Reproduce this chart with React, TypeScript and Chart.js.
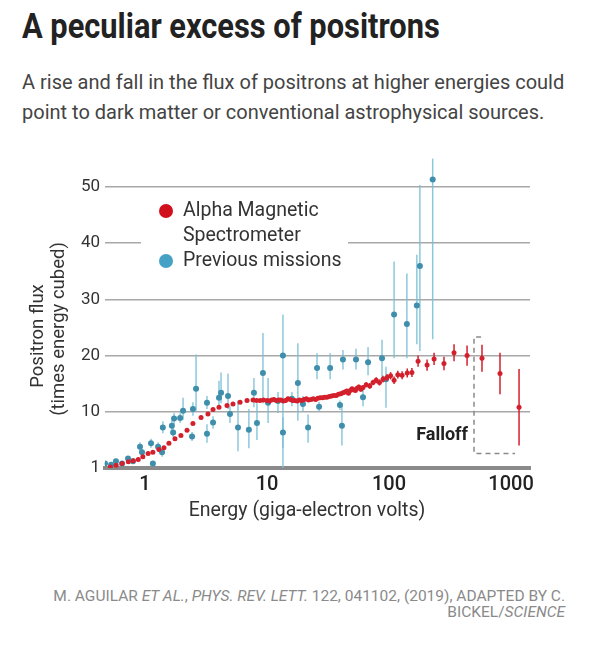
import React, { useEffect, useRef } from 'react';
import { Chart, registerables } from 'chart.js';
Chart.register(...registerables);

// Alpha Magnetic Spectrometer (energy in GeV, flux x E^3, symmetric error)
const amsEnergy = [
  0.52, 0.58, 0.65, 0.73, 0.8, 0.88, 0.96, 1.06, 1.16, 1.3, 1.43, 1.57, 1.76, 1.97, 2.21, 2.47, 2.88, 3.28, 3.61, 4.04, 4.7, 5.26, 6.01, 6.86, 7.68,
  8.2, 8.77, 9.35, 10.0, 10.45, 10.9, 11.4, 11.9, 12.45, 13.0, 13.6, 14.2, 14.85, 15.5, 16.2, 16.9, 17.6, 18.4, 19.2, 20.1, 21.0, 21.9, 22.9, 23.9,
  25.0, 26.1, 27.3, 28.5, 29.7, 31.0, 32.4, 33.8, 35.3, 36.9, 38.5, 40.2, 41.9, 43.6, 45.0, 46.5, 48.1, 49.7, 51.3, 53.0, 54.7, 56.5, 58.8, 61.2,
  65.0, 69.5, 73.9, 78.5, 83.5, 89.3, 96.3, 103, 110, 118, 128, 141, 154, 173, 205, 234, 282, 341, 436, 578, 812, 1163,
];
const amsFlux = [
  0.2, 0.5, 0.8, 1.1, 1.3, 1.5, 2.0, 2.6, 2.8, 3.3, 3.6, 4.4, 5.2, 5.8, 6.7, 7.9, 9.0, 9.6, 10.4, 10.8, 11.1, 11.4, 11.7, 12.0, 12.1,
  12.0, 12.0, 12.1, 12.0, 11.9, 12.1, 12.2, 12.0, 12.1, 12.1, 11.9, 12.0, 12.3, 12.2, 12.0, 12.0, 11.9, 12.1, 12.0, 12.2, 12.3, 12.1, 12.2, 12.3,
  12.2, 12.4, 12.5, 12.5, 12.6, 12.6, 12.7, 12.8, 12.9, 12.9, 13.1, 13.2, 13.4, 13.5, 13.7, 13.3, 13.8, 14.1, 13.9, 13.8, 14.2, 14.4, 14.0, 14.3,
  14.8, 14.6, 15.2, 15.6, 15.2, 15.8, 16.1, 16.4, 15.6, 16.6, 16.5, 16.9, 17.0, 19.0, 18.3, 19.4, 18.6, 20.5, 20.0, 19.5, 16.8, 10.8,
];
const amsError = [
  0.05, 0.05, 0.05, 0.05, 0.05, 0.05, 0.05, 0.05, 0.05, 0.05, 0.05, 0.05, 0.05, 0.05, 0.05, 0.05, 0.1, 0.1, 0.1, 0.1, 0.1, 0.1, 0.1, 0.1, 0.1,
  0.1, 0.1, 0.1, 0.1, 0.15, 0.15, 0.15, 0.15, 0.15, 0.15, 0.15, 0.15, 0.15, 0.15, 0.15, 0.15, 0.15, 0.15, 0.15, 0.15, 0.2, 0.2, 0.2, 0.2,
  0.2, 0.2, 0.2, 0.2, 0.2, 0.2, 0.25, 0.25, 0.25, 0.25, 0.25, 0.25, 0.25, 0.25, 0.3, 0.3, 0.3, 0.3, 0.3, 0.3, 0.4, 0.4, 0.4, 0.4,
  0.45, 0.5, 0.5, 0.55, 0.55, 0.6, 0.6, 0.65, 0.65, 0.7, 0.7, 0.8, 0.8, 1.0, 1.0, 1.1, 1.2, 1.5, 1.8, 2.4, 3.7, 6.8,
];

// Previous missions (energy, flux, lower and upper error bar ends)
const prevEnergy = [0.47, 0.527, 0.578, 0.648, 0.726, 0.797, 0.91, 0.945, 1.12, 1.16, 1.28, 1.38, 1.4, 1.66, 1.7, 1.73, 1.94, 2.05, 2.43, 2.47, 2.62, 3.22, 3.22, 3.61, 4.04, 4.2, 4.79, 4.97, 5.78, 7.1, 7.81, 8.27, 9.26, 10.2, 12.3, 13.5, 13.5, 16.0, 17.9, 19.7, 21.7, 25.7, 26.7, 32.9, 39.6, 41.1, 41.9, 53.6, 61.2, 67.3, 87.6, 94.4, 110, 140, 169, 179, 228];
const prevFlux = [0.8, 0.6, 1.2, 0.8, 1.7, 1.2, 3.8, 2.8, 4.4, 0.8, 3.8, 2.8, 7.2, 7.5, 6.3, 8.8, 8.9, 10.2, 5.6, 10.5, 14.1, 11.6, 6.1, 8.1, 12.5, 13.4, 12.8, 9.6, 7.2, 6.8, 13.4, 8.0, 16.9, 11.6, 11.9, 20.0, 6.3, 12.3, 15.1, 11.4, 7.2, 17.8, 10.9, 17.8, 11.2, 7.5, 19.3, 19.3, 12.6, 18.8, 19.5, 15.8, 27.3, 25.6, 28.9, 35.9, 51.3];
const prevLow = [0.6, 0.4, 0.9, 0.6, 1.4, 0.9, 3.0, 2.2, 3.6, 0.5, 3.0, 2.0, 6.2, 6.5, 5.5, 7.8, 8.0, 8.6, 4.8, 9.3, 10.2, 10.5, 4.5, 7.0, 10.5, 11.5, 10.5, 8.0, 3.0, 3.5, 10.8, 5.0, 11.5, 8.0, 9.8, 0.0, 3.5, 11.0, 8.4, 10.0, 4.5, 15.8, 10.0, 15.8, 10.3, 4.0, 17.5, 17.5, 11.0, 16.5, 15.8, 10.7, 19.5, 19.5, 22.0, 20.8, 22.9];
const prevHigh = [1.0, 0.8, 1.5, 1.0, 2.0, 1.5, 4.6, 3.4, 5.2, 1.1, 4.6, 3.6, 8.3, 8.5, 7.1, 9.8, 9.8, 12.5, 6.4, 11.7, 20.2, 12.8, 7.8, 9.2, 15.5, 17.0, 16.8, 11.0, 12.0, 10.5, 16.0, 11.5, 24.0, 16.0, 13.5, 27.3, 9.0, 13.5, 22.2, 12.8, 9.5, 20.4, 11.8, 20.4, 12.0, 11.5, 21.0, 21.2, 14.0, 21.5, 22.8, 18.0, 36.7, 34.6, 37.9, 50.3, 55.0];

const yTicks = [0, 10, 20, 30, 40, 50];
const yTickLabels = ['1', '10', '20', '30', '40', '50'];
const xTicks = [1, 10, 100, 1000];

// Falloff annotation box, in data units
const falloffEnergy = [497, 1078];
const falloffFlux = [2.6, 23.3];
const falloffHookEnergy = 568;
const falloffLabelFlux = 5.8;

const legendItems = [
  { color: '#d0101a', lines: ['Alpha Magnetic', 'Spectrometer'] },
  { color: '#46a2c4', lines: ['Previous missions'] },
];

const FONT = 'Roboto, "Open Sans", sans-serif';

const decorPlugin = {
  id: 'decor',
  beforeDatasetsDraw(chart: any) {
    const { ctx, scales } = chart;
    const x = scales.x, y = scales.y;
    ctx.save();
    ctx.strokeStyle = 'rgba(120,190,214,0.85)';
    ctx.lineWidth = 1.5;
    prevEnergy.forEach((e, i) => {
      const px = x.getPixelForValue(e);
      ctx.beginPath();
      ctx.moveTo(px, y.getPixelForValue(prevLow[i]));
      ctx.lineTo(px, y.getPixelForValue(prevHigh[i]));
      ctx.stroke();
    });
    ctx.restore();
  },
  afterDatasetsDraw(chart: any) {
    const { ctx, scales } = chart;
    const x = scales.x, y = scales.y;
    ctx.save();
    ctx.strokeStyle = '#d3202c';
    ctx.lineWidth = 1.5;
    amsEnergy.forEach((e, i) => {
      if (amsError[i] < 0.3) return;
      const px = x.getPixelForValue(e);
      ctx.beginPath();
      ctx.moveTo(px, y.getPixelForValue(amsFlux[i] - amsError[i]));
      ctx.lineTo(px, y.getPixelForValue(amsFlux[i] + amsError[i]));
      ctx.stroke();
    });
    // falloff box
    const bx0 = x.getPixelForValue(falloffEnergy[0]);
    const bx1 = x.getPixelForValue(falloffEnergy[1]);
    const hx = x.getPixelForValue(falloffHookEnergy);
    const by0 = y.getPixelForValue(falloffFlux[0]);
    const by1 = y.getPixelForValue(falloffFlux[1]);
    ctx.strokeStyle = '#8a8a8a';
    ctx.lineWidth = 1.5;
    ctx.setLineDash([5, 4]);
    ctx.beginPath();
    ctx.moveTo(hx, by1);
    ctx.lineTo(bx0, by1);
    ctx.lineTo(bx0, by0);
    ctx.lineTo(bx1, by0);
    ctx.stroke();
    ctx.setLineDash([]);
    ctx.fillStyle = '#222';
    ctx.font = `bold 18px ${FONT}`;
    ctx.textAlign = 'right';
    ctx.textBaseline = 'middle';
    ctx.fillText('Falloff', bx0 - 6, y.getPixelForValue(falloffLabelFlux));
    ctx.restore();
  },
  afterDraw(chart: any) {
    const { ctx } = chart;
    ctx.save();
    // legend
    ctx.fillStyle = '#ffffff';
    ctx.fillRect(141, 93, 207, 36);
    ctx.font = `19.5px ${FONT}`;
    ctx.textBaseline = 'middle';
    ctx.textAlign = 'left';
    let ly = 81;
    legendItems.forEach((it) => {
      ctx.fillStyle = it.color;
      ctx.beginPath();
      ctx.arc(166, ly, 7, 0, Math.PI * 2);
      ctx.fill();
      ctx.fillStyle = '#333';
      it.lines.forEach((t, k) => ctx.fillText(t, 183, ly + k * 25));
      ly += it.lines.length * 25;
    });
    // axis titles
    ctx.fillStyle = '#333';
    ctx.textAlign = 'center';
    ctx.font = `19.5px ${FONT}`;
    ctx.fillText('Energy (giga-electron volts)', 307, 381);
    ctx.font = `18.5px ${FONT}`;
    ctx.save();
    ctx.translate(38, 206);
    ctx.rotate(-Math.PI / 2);
    ctx.fillText('Positron flux', 0, 0);
    ctx.restore();
    ctx.save();
    ctx.translate(59, 199);
    ctx.rotate(-Math.PI / 2);
    ctx.fillText('(times energy cubed)', 0, 0);
    ctx.restore();
    ctx.restore();
  },
};

function ChartCanvas() {
  const ref = useRef<HTMLCanvasElement | null>(null);
  useEffect(() => {
    if (!ref.current) return;
    const chart = new Chart(ref.current, {
      type: 'scatter',
      data: {
        datasets: [
          {
            label: 'Alpha Magnetic Spectrometer',
            data: amsEnergy.map((e, i) => ({ x: e, y: amsFlux[i] })),
            pointRadius: 2.5,
            pointBackgroundColor: '#d3202c',
            pointBorderWidth: 0,
          },
          {
            label: 'Previous missions',
            data: prevEnergy.map((e, i) => ({ x: e, y: prevFlux[i] })),
            pointRadius: 3,
            pointBackgroundColor: '#3f8eab',
            pointBorderWidth: 0,
          },
        ],
      },
      options: {
        animation: false,
        responsive: false,
        layout: { padding: { left: 0, right: 70, top: 23, bottom: 0 } },
        plugins: { legend: { display: false }, tooltip: { enabled: false } },
        scales: {
          x: {
            type: 'logarithmic',
            min: 0.47,
            max: 1430,
            afterBuildTicks: (s: any) => { s.ticks = xTicks.map((v) => ({ value: v })); },
            afterFit: (s: any) => { s.height = 62; },
            grid: { display: false, drawTicks: false },
            border: { display: true, color: '#8a8a8a', width: 4 },
            ticks: {
              autoSkip: false,
              maxRotation: 0,
              padding: 5,
              color: '#222',
              font: { size: 20, weight: '500', family: FONT },
              callback: (v: any) => String(v),
            },
          },
          y: {
            min: 0,
            max: 56,
            afterBuildTicks: (s: any) => { s.ticks = yTicks.map((v) => ({ value: v })); },
            afterFit: (s: any) => { s.width = 105; },
            grid: {
              drawTicks: false,
              lineWidth: 1.5,
              color: (c: any) => (c.tick && c.tick.value === 0 ? 'rgba(0,0,0,0)' : '#a8a8a8'),
            },
            border: { display: false },
            ticks: {
              padding: 5,
              color: '#333',
              font: { size: 17, family: FONT },
              callback: (v: any) => yTickLabels[yTicks.indexOf(v)],
            },
          },
        },
      },
      plugins: [decorPlugin],
    });
    return () => chart.destroy();
  }, []);
  return <canvas ref={ref} width={600} height={400} style={{ position: 'absolute', left: 0, top: 130, width: 600, height: 400 }} />;
}

export default function App() {
  return (
    <div style={{ position: 'absolute', left: 0, top: 0, width: 600, height: 654, background: '#fff', fontFamily: FONT, overflow: 'hidden' }}>
      <div style={{ position: 'absolute', left: 22, top: 6, fontSize: 35, fontWeight: 'bold', color: '#222', lineHeight: '42px', whiteSpace: 'nowrap', transform: 'scaleX(0.88)', transformOrigin: 'left center' }}>
        A peculiar excess of positrons
      </div>
      <div style={{ position: 'absolute', left: 22, top: 67, fontSize: 20, color: '#444', lineHeight: '30px', whiteSpace: 'nowrap' }}>
        A rise and fall in the flux of positrons at higher energies could
        <br />
        point to dark matter or conventional astrophysical sources.
      </div>
      <ChartCanvas />
      <div style={{ position: 'absolute', right: 35, top: 588, fontSize: 15.5, color: '#8a8a8a', lineHeight: '16px', textAlign: 'right', whiteSpace: 'nowrap' }}>
        M. AGUILAR <i>ET AL.</i>, <i>PHYS. REV. LETT.</i> 122, 041102, (2019), ADAPTED BY C.
        <br />
        BICKEL/<i>SCIENCE</i>
      </div>
    </div>
  );
}
